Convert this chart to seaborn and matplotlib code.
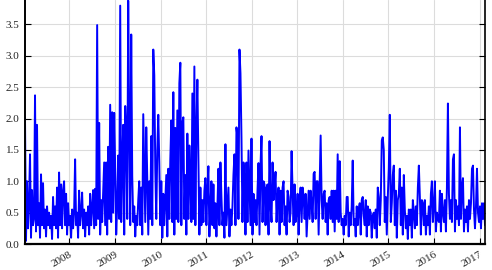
import numpy as np
import pandas as pd
import matplotlib
matplotlib.use("Agg")
import matplotlib.pyplot as plt
import matplotlib.dates as mdates
import seaborn as sns

# Series values (roughly one value per pixel column)
values = [
    2.02, 0.05, 1.00, 0.25, 0.65, 1.43, 0.10, 0.86, 0.30, 0.40,
    2.37, 0.20, 1.90, 0.30, 0.65, 0.10, 1.11, 0.30, 0.97, 0.25,
    0.55, 0.12, 0.60, 0.30, 0.50, 0.25, 0.45, 0.08, 0.75, 0.30,
    0.60, 0.25, 0.90, 0.10, 1.14, 0.30, 0.95, 0.25, 0.85, 1.00,
    0.30, 0.80, 0.15, 0.65, 0.30, 0.45, 0.10, 0.55, 0.25, 0.50,
    1.35, 0.30, 0.50, 0.10, 0.85, 0.30, 0.50, 0.82, 0.25, 0.55,
    0.12, 0.50, 0.30, 0.60, 0.15, 0.80, 0.30, 0.60, 0.86, 0.25,
    0.88, 0.30, 3.49, 0.40, 1.93, 0.15, 0.70, 0.35, 0.85, 1.30,
    0.30, 1.30, 0.15, 1.55, 0.40, 2.22, 0.35, 2.10, 0.50, 2.09,
    1.20, 0.15, 0.60, 1.41, 0.40, 3.80, 0.35, 1.25, 1.90, 0.15,
    2.20, 1.80, 0.40, 3.88, 1.90, 0.30, 3.34, 1.08, 0.35, 0.60,
    0.12, 0.45, 0.30, 0.70, 1.00, 0.30, 0.90, 0.15, 2.07, 1.25,
    0.35, 1.86, 1.05, 0.15, 1.00, 0.40, 1.72, 0.30, 3.10, 2.69,
    1.20, 0.40, 1.50, 2.06, 1.30, 0.30, 1.00, 0.10, 0.80, 0.30,
    0.70, 1.10, 0.12, 1.20, 0.40, 1.35, 1.97, 0.35, 2.42, 0.15,
    1.85, 0.40, 2.13, 0.35, 2.56, 2.89, 0.30, 1.93, 2.02, 0.40,
    1.10, 0.15, 1.76, 0.40, 1.57, 1.00, 0.35, 2.40, 0.40, 2.83,
    0.30, 1.80, 2.62, 1.43, 0.15, 0.90, 0.30, 0.70, 0.35, 0.85,
    1.05, 0.30, 0.90, 1.24, 0.12, 0.60, 1.00, 0.30, 0.95, 0.25,
    0.65, 0.12, 0.60, 1.20, 0.30, 1.30, 0.75, 0.30, 0.50, 0.10,
    1.59, 0.30, 0.60, 0.90, 0.12, 0.55, 0.30, 0.60, 1.10, 1.43,
    0.30, 1.86, 1.70, 0.40, 3.10, 2.72, 1.70, 0.35, 1.30, 1.00,
    0.15, 1.30, 0.35, 1.49, 0.90, 0.30, 1.68, 0.15, 0.80, 0.35,
    0.70, 0.30, 0.85, 1.29, 0.15, 1.25, 1.72, 0.35, 1.00, 0.95,
    0.30, 0.90, 0.95, 0.15, 1.64, 0.60, 0.35, 1.30, 0.70, 0.90,
    1.15, 0.35, 0.75, 0.90, 0.15, 0.85, 0.35, 0.90, 1.00, 0.30,
    0.60, 0.15, 0.85, 0.75, 0.35, 0.50, 1.48, 0.85, 0.30, 0.95,
    0.35, 0.50, 0.80, 0.15, 0.70, 0.90, 0.35, 0.90, 0.75, 0.40,
    0.80, 0.12, 0.50, 0.85, 0.40, 0.85, 0.65, 0.35, 1.12, 1.15,
    0.40, 1.00, 1.00, 0.15, 0.95, 1.73, 0.70, 0.40, 0.80, 0.85,
    0.35, 0.65, 0.15, 0.70, 0.75, 0.40, 0.85, 0.35, 0.85, 0.20,
    0.85, 0.40, 1.43, 0.35, 1.32, 0.50, 0.30, 0.40, 0.15, 0.45,
    0.30, 0.75, 0.75, 0.12, 0.50, 0.30, 0.60, 1.33, 0.30, 0.40,
    0.12, 0.60, 0.30, 0.55, 0.65, 0.15, 0.70, 0.75, 0.45, 0.30,
    0.70, 0.12, 0.60, 0.30, 0.55, 0.50, 0.10, 0.45, 0.50, 0.25,
    0.55, 0.10, 0.90, 0.75, 0.30, 0.70, 1.65, 1.70, 1.50, 0.35,
    0.75, 0.15, 0.75, 1.20, 2.06, 0.35, 0.65, 1.10, 1.25, 0.30,
    0.85, 0.10, 0.70, 0.80, 1.20, 0.30, 0.90, 0.15, 1.10, 0.55,
    0.25, 0.45, 0.08, 0.55, 0.30, 0.55, 0.10, 0.70, 0.50, 0.25,
    0.60, 0.30, 0.90, 1.25, 0.75, 0.15, 0.70, 0.65, 0.30, 0.70,
    0.15, 0.45, 0.30, 0.60, 0.15, 0.80, 1.00, 0.35, 0.60, 1.00,
    0.20, 0.50, 0.40, 0.35, 0.85, 0.20, 0.80, 0.50, 0.35, 0.70,
    0.20, 0.90, 2.24, 0.80, 0.40, 0.70, 0.35, 1.35, 1.43, 0.20,
    0.70, 0.40, 0.60, 0.30, 1.86, 0.40, 0.90, 1.05, 0.20, 0.55,
    0.35, 0.60, 0.20, 0.70, 0.40, 0.65, 1.20, 1.25, 0.55, 0.25,
    0.60, 1.20, 0.50, 0.35, 0.60, 0.25, 0.65, 0.40, 0.65, 0.30,
]
start_date = "2007-01-10"
end_date = "2017-02-14"
y_ticks = [0.0, 0.5, 1.0, 1.5, 2.0, 2.5, 3.0, 3.5]

dates = pd.date_range(start_date, end_date, periods=len(values))
df = pd.DataFrame({"date": dates, "value": values})

sns.set_theme(style="whitegrid")
plt.rcParams["font.family"] = ["Liberation Serif", "DejaVu Serif"]

fig = plt.figure(figsize=(4.92, 2.70), dpi=100)
ax = fig.add_axes([25 / 492, 26 / 270, 460 / 492, 244 / 270])
ax.set_facecolor("white")

sns.lineplot(data=df, x="date", y="value", ax=ax, color="#0000ff", linewidth=1.4)

ax.set_xlim(dates[0], dates[-1])
ax.set_ylim(0, 3.89)
ax.set_yticks(y_ticks)
ax.set_yticklabels([f"{t:.1f}" for t in y_ticks])
ax.xaxis.set_major_locator(mdates.YearLocator())
ax.xaxis.set_major_formatter(mdates.DateFormatter("%Y"))
ax.set_xlabel("")
ax.set_ylabel("")

ax.grid(True, color="#dcdcdc", linewidth=0.8)
for side in ["left", "right", "bottom"]:
    ax.spines[side].set_visible(True)
    ax.spines[side].set_color("black")
ax.spines["left"].set_linewidth(1.4)
ax.spines["right"].set_linewidth(1.2)
ax.spines["bottom"].set_linewidth(1.6)
ax.spines["top"].set_visible(False)

ax.tick_params(axis="both", direction="in", length=4, width=0.8, color="black",
               labelsize=8, labelcolor="#222222", pad=4,
               left=True, right=True, bottom=True, top=False)
for lbl in ax.get_xticklabels():
    lbl.set_rotation(30)
    lbl.set_ha("right")
    lbl.set_rotation_mode("anchor")

fig.savefig("out.png", dpi=100)
